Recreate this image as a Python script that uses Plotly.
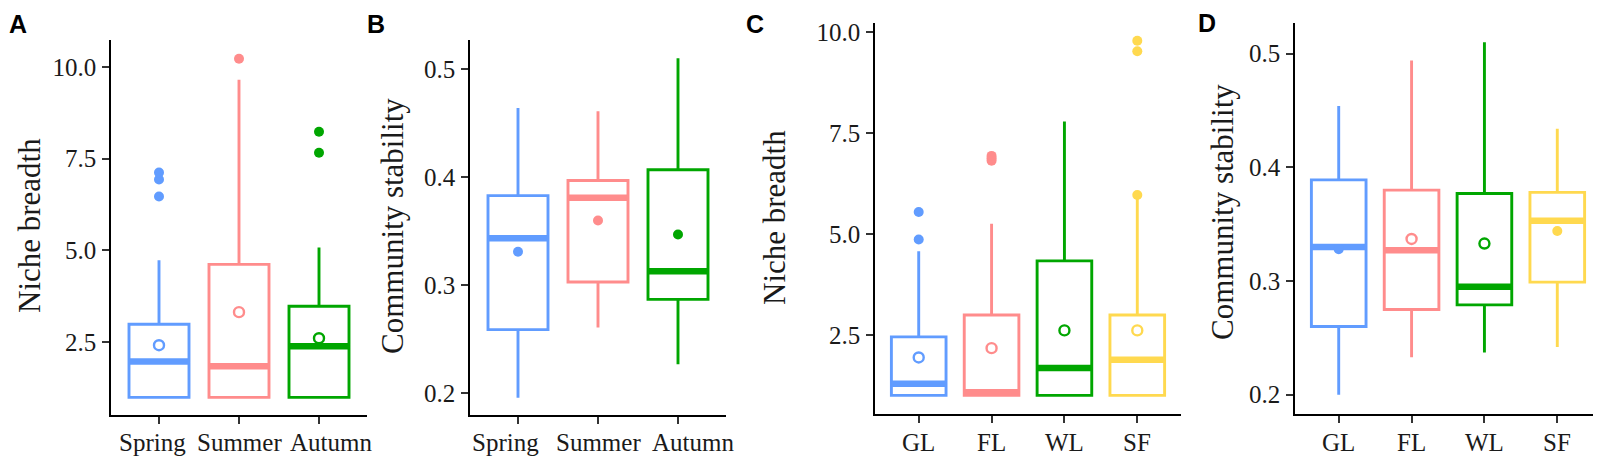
import plotly.graph_objects as go

W, H = 1601, 456

# ---- data ----
seasons = ["Spring", "Summer", "Autumn"]
lands = ["GL", "FL", "WL", "SF"]

season_colors = ["#619CFF", "#FF8C8C", "#00A600"]
land_colors = ["#619CFF", "#FF8C8C", "#00A600", "#FFD94F"]

# A: niche breadth by season
a_lo = [1.0, 1.0, 1.0]
a_q1 = [1.0, 1.0, 1.0]
a_med = [1.98, 1.85, 2.39]
a_q3 = [2.99, 4.62, 3.48]
a_hi = [4.73, 9.65, 5.08]
a_mean = [2.42, 3.32, 2.61]
a_out = [[6.47, 6.93, 7.12], [10.22], [7.66, 8.23]]
a_mean_open = [True, True, True]

# B: community stability by season
b_lo = [0.196, 0.261, 0.227]
b_q1 = [0.259, 0.303, 0.287]
b_med = [0.3435, 0.381, 0.313]
b_q3 = [0.383, 0.397, 0.407]
b_hi = [0.464, 0.461, 0.510]
b_mean = [0.331, 0.360, 0.347]
b_out = [[], [], []]
b_mean_open = [False, False, False]

# C: niche breadth by land use
c_lo = [1.0, 1.0, 1.0, 1.0]
c_q1 = [1.0, 1.0, 1.0, 1.0]
c_med = [1.29, 1.08, 1.68, 1.88]
c_q3 = [2.45, 2.99, 4.33, 2.99]
c_hi = [4.57, 5.25, 7.78, 5.9]
c_mean = [1.94, 2.17, 2.61, 2.61]
c_out = [[4.86, 5.54], [6.81, 6.87, 6.93], [], [5.96, 9.52, 9.78]]
c_mean_open = [True, True, True, True]

# D: community stability by land use
d_lo = [0.200, 0.233, 0.237, 0.242]
d_q1 = [0.260, 0.275, 0.279, 0.299]
d_med = [0.330, 0.327, 0.295, 0.353]
d_q3 = [0.389, 0.380, 0.377, 0.378]
d_hi = [0.454, 0.494, 0.510, 0.434]
d_mean = [0.328, 0.337, 0.333, 0.344]
d_out = [[], [], [], []]
d_mean_open = [False, True, True, False]

nb_ticks = [2.5, 5.0, 7.5, 10.0]
nb_ticktext = ["2.5", "5.0", "7.5", "10.0"]
cs_ticks = [0.2, 0.3, 0.4, 0.5]
cs_ticktext = ["0.2", "0.3", "0.4", "0.5"]

# ---- layout of the four panels (pixel boxes of the plot areas) ----
# lab_shift: the season labels in the original sit spread out from their ticks
panels = [
    dict(letter="A", cats=seasons, cols=season_colors, lo=a_lo, q1=a_q1, med=a_med, q3=a_q3,
         hi=a_hi, mean=a_mean, out=a_out, mopen=a_mean_open, title="Niche breadth",
         tv=nb_ticks, tt=nb_ticktext, yr=[0.52, 10.73], box=(103, 359, 32, 407),
         letter_xy=(10, 16), title_xy=(21, 218), lab_shift=[-7, 0, 12]),
    dict(letter="B", cats=seasons, cols=season_colors, lo=b_lo, q1=b_q1, med=b_med, q3=b_q3,
         hi=b_hi, mean=b_mean, out=b_out, mopen=b_mean_open, title="Community stability",
         tv=cs_ticks, tt=cs_ticktext, yr=[0.180, 0.527], box=(462, 718, 32, 407),
         letter_xy=(368, 16), title_xy=(384, 218), lab_shift=[-13, 0, 15]),
    dict(letter="C", cats=lands, cols=land_colors, lo=c_lo, q1=c_q1, med=c_med, q3=c_q3,
         hi=c_hi, mean=c_mean, out=c_out, mopen=c_mean_open, title="Niche breadth",
         tv=nb_ticks, tt=nb_ticktext, yr=[0.54, 10.22], box=(867, 1173, 15, 406),
         letter_xy=(747, 16), title_xy=(766, 210), lab_shift=[0, 0, 0, 0]),
    dict(letter="D", cats=lands, cols=land_colors, lo=d_lo, q1=d_q1, med=d_med, q3=d_q3,
         hi=d_hi, mean=d_mean, out=d_out, mopen=d_mean_open, title="Community stability",
         tv=cs_ticks, tt=cs_ticktext, yr=[0.183, 0.527], box=(1287, 1593, 15, 406),
         letter_xy=(1199, 15), title_xy=(1214, 204), lab_shift=[0, 0, 0, 0]),
]

SERIF = "Liberation Serif, Times New Roman, serif"
BOXW = 0.75
TXT = "#1a1a1a"


def fx(px):
    return px / W


def fy(py):
    return 1 - py / H


fig = go.Figure()
annotations = []
axes = {}

for n, p in enumerate(panels, start=1):
    xa = "x" if n == 1 else f"x{n}"
    ya = "y" if n == 1 else f"y{n}"
    for i, cat in enumerate(p["cats"]):
        col = p["cols"][i]
        fig.add_trace(go.Box(
            x=[i], q1=[p["q1"][i]], median=[p["med"][i]], q3=[p["q3"][i]],
            lowerfence=[p["lo"][i]], upperfence=[p["hi"][i]],
            width=BOXW, whiskerwidth=0, fillcolor="white",
            line=dict(color=col, width=2.9), boxpoints=False,
            xaxis=xa, yaxis=ya, hoverinfo="skip", showlegend=False,
        ))
        # thick median bar, ggplot style
        fig.add_trace(go.Scatter(
            x=[i - BOXW / 2, i + BOXW / 2], y=[p["med"][i], p["med"][i]],
            mode="lines", line=dict(color=col, width=6.5),
            xaxis=xa, yaxis=ya, hoverinfo="skip", showlegend=False,
        ))
        if p["out"][i]:
            fig.add_trace(go.Scatter(
                x=[i] * len(p["out"][i]), y=p["out"][i], mode="markers",
                marker=dict(color=col, size=10),
                xaxis=xa, yaxis=ya, hoverinfo="skip", showlegend=False,
            ))
        if p["mopen"][i]:
            mk = dict(symbol="circle-open", color=col, size=10, line=dict(color=col, width=2.4))
        else:
            mk = dict(symbol="circle", color=col, size=10)
        fig.add_trace(go.Scatter(
            x=[i], y=[p["mean"][i]], mode="markers", marker=mk,
            xaxis=xa, yaxis=ya, hoverinfo="skip", showlegend=False,
        ))
        # category label under its tick
        annotations.append(dict(
            text=cat, x=i, xref=xa, y=fy(434), yref="paper",
            xshift=p["lab_shift"][i], showarrow=False,
            xanchor="center", yanchor="middle",
            font=dict(family=SERIF, size=25, color=TXT),
        ))

    x0, x1, y0, y1 = p["box"]
    ncat = len(p["cats"])
    common = dict(showline=True, linecolor="black", linewidth=1.6, ticks="outside",
                  ticklen=7, tickwidth=1.5, tickcolor="#333333", showgrid=False,
                  zeroline=False, automargin=False, tickangle=0,
                  tickfont=dict(family=SERIF, size=25, color=TXT))
    axes["xaxis" if n == 1 else f"xaxis{n}"] = dict(
        common, domain=[fx(x0), fx(x1)], anchor=ya, range=[-0.6, ncat - 0.4],
        tickmode="array", tickvals=list(range(ncat)), showticklabels=False,
        fixedrange=True)
    axes["yaxis" if n == 1 else f"yaxis{n}"] = dict(
        common, domain=[fy(y1), fy(y0)], anchor=xa, range=p["yr"],
        tickmode="array", tickvals=p["tv"], ticktext=p["tt"],
        ticklabelstandoff=1, fixedrange=True)

    lx, ly = p["letter_xy"]
    annotations.append(dict(
        text=p["letter"], x=fx(lx), y=fy(ly), xref="paper", yref="paper",
        showarrow=False, xanchor="center", yanchor="middle",
        font=dict(family="Liberation Sans, Arial, sans-serif", size=25, color="black",
                  weight="bold"),
    ))
    tx, ty = p["title_xy"]
    annotations.append(dict(
        text=p["title"], x=fx(tx), y=fy(ty), xref="paper", yref="paper",
        showarrow=False, xanchor="center", yanchor="middle", textangle=-90,
        font=dict(family=SERIF, size=31, color=TXT),
    ))

fig.update_layout(
    width=W, height=H,
    margin=dict(l=0, r=0, t=0, b=0),
    paper_bgcolor="white", plot_bgcolor="white",
    showlegend=False,
    annotations=annotations,
    **axes,
)

fig.write_html("out.html", config=dict(displayModeBar=False))
